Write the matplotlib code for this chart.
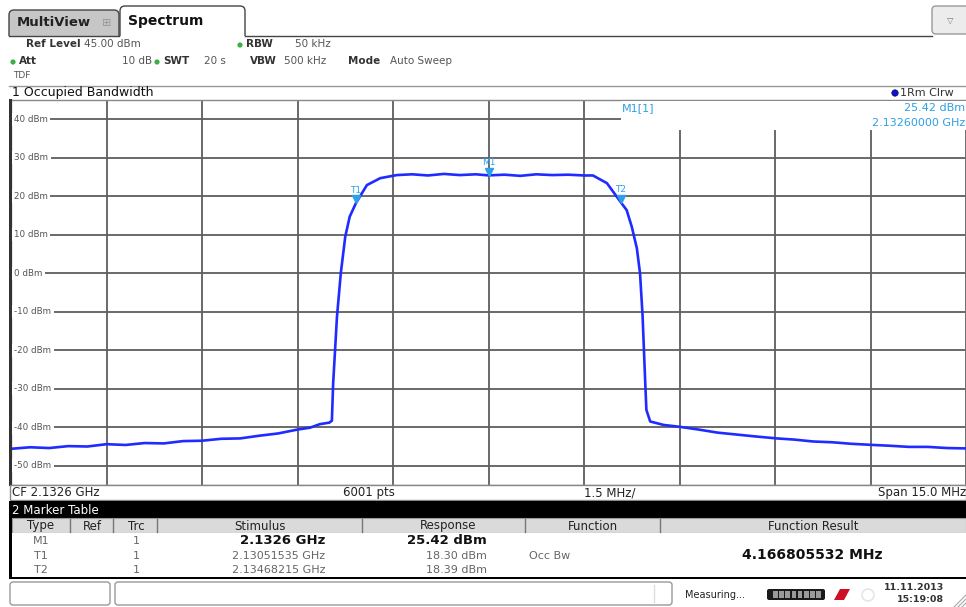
import numpy as np
import matplotlib.pyplot as plt
import matplotlib.transforms as mtransforms
from matplotlib.patches import Rectangle, FancyBboxPatch, Circle, Polygon

# --- measurement settings shown on screen
cf_mhz = 2132.6
span_mhz = 15.0
ref_level = 45.0
div_mhz = 1.5

# --- trace: offset from CF (MHz) and level (dBm)
trace_off = [-7.50, -7.20, -6.90, -6.60, -6.30, -6.00, -5.70, -5.40, -5.10, -4.80,
             -4.50, -4.20, -3.90, -3.60, -3.30, -3.00, -2.80, -2.65, -2.50, -2.46,
             -2.44, -2.38, -2.32, -2.25, -2.18, -2.08, -1.91, -1.70, -1.44, -1.20,
             -0.95, -0.70, -0.45, -0.20, 0.00, 0.25, 0.50, 0.75, 1.00, 1.25,
             1.50, 1.64, 1.86, 2.08, 2.17, 2.25, 2.33, 2.38, 2.42, 2.46,
             2.48, 2.54, 2.75, 3.01, 3.30, 3.60, 3.90, 4.20, 4.53, 4.80,
             5.10, 5.40, 5.70, 6.04, 6.30, 6.60, 6.90, 7.20, 7.50]
trace_dbm = [-45.6, -45.2, -45.4, -44.9, -45.0, -44.4, -44.6, -44.1, -44.2, -43.6,
             -43.5, -43.0, -42.9, -42.2, -41.6, -40.6, -40.1, -39.2, -38.8, -38.3,
             -28.6, -11.3, 0.0, 9.5, 14.7, 18.3, 22.9, 24.7, 25.5, 25.7,
             25.4, 25.8, 25.5, 25.7, 25.42, 25.6, 25.3, 25.7, 25.5, 25.6,
             25.4, 25.4, 23.4, 18.4, 16.4, 12.1, 6.5, 0.0, -11.0, -27.7,
             -35.5, -38.5, -39.4, -39.9, -40.6, -41.4, -41.9, -42.4, -42.9, -43.2,
             -43.7, -43.9, -44.3, -44.6, -44.8, -45.1, -45.1, -45.4, -45.5]

# --- markers
marker_names = ['M1', 'T1', 'T2']
marker_off = [0.0, -2.08465, 2.08215]
marker_dbm = [25.42, 18.30, 18.39]
marker_stim = ['2.1326 GHz', '2.13051535 GHz', '2.13468215 GHz']
marker_resp = ['25.42 dBm', '18.30 dBm', '18.39 dBm']
occ_bw = '4.166805532 MHz'

y_ticks = [40, 30, 20, 10, 0, -10, -20, -30, -40, -50]

trace_col = '#1f2bff'
mk_col = '#2ea0e6'
grid_col = '#5e5e5e'

fig = plt.figure(figsize=(9.66, 6.07), dpi=100)

# main diagram
ax = fig.add_axes([11 / 966, 122 / 607, 955 / 966, 385 / 607])
ax.set_zorder(1)
ax.set_xlim(cf_mhz - span_mhz / 2, cf_mhz + span_mhz / 2)
ax.set_ylim(ref_level - 100, ref_level)
ax.set_xticks(cf_mhz + div_mhz * np.arange(-5, 6))
ax.set_yticks(y_ticks)
ax.grid(True, color=grid_col, lw=1.3)
ax.tick_params(length=0, labelbottom=False, labelleft=False)
for s in ['top', 'bottom', 'right', 'left']:
    ax.spines[s].set_color('#888888')
    ax.spines[s].set_linewidth(1)

ax.plot(cf_mhz + np.array(trace_off), trace_dbm, color=trace_col, lw=1.9, zorder=4)

for name, off, lvl in zip(marker_names, marker_off, marker_dbm):
    ax.plot(cf_mhz + off, lvl + 0.9, marker='v', ms=6, color=mk_col, zorder=5)
    ax.annotate(name, (cf_mhz + off, lvl), xytext=(0, 9), textcoords='offset points',
                ha='center', va='center', fontsize=6.5, color=mk_col, zorder=5)

trans = mtransforms.blended_transform_factory(ax.transAxes, ax.transData)
for v in y_ticks:
    ax.text(0.0035, v, f'{v} dBm', transform=trans, fontsize=6.3, color='#555555',
            ha='left', va='center', zorder=6,
            bbox=dict(boxstyle='square,pad=0.25', fc='white', ec='none'))

# overlay in pixel coordinates for the instrument frame
bg = fig.add_axes([0, 0, 1, 1])
bg.set_zorder(3)
bg.set_xlim(0, 966)
bg.set_ylim(607, 0)
bg.axis('off')


def txt(x, y, s, **kw):
    kw.setdefault('va', 'center')
    kw.setdefault('fontsize', 7.5)
    kw.setdefault('color', '#333333')
    bg.text(x, y, s, **kw)


# tabs
bg.add_patch(FancyBboxPatch((9, 10), 110, 30, boxstyle='round,pad=0,rounding_size=5',
                            fc='#c6c6c6', ec='#444444', lw=1))
bg.add_patch(FancyBboxPatch((120, 6), 125, 36, boxstyle='round,pad=0,rounding_size=5',
                            fc='white', ec='#444444', lw=1))
bg.add_patch(Rectangle((0, 36), 966, 10, fc='white', ec='none'))
bg.plot([9, 119], [35.5, 35.5], color='#444444', lw=1)
bg.plot([245, 932], [35.5, 35.5], color='#444444', lw=1)
txt(17, 23, 'MultiView', fontsize=9.5, fontweight='bold', color='#222222')
txt(102, 23, '\u229e', fontsize=8, color='#999999')
txt(128, 21, 'Spectrum', fontsize=10, fontweight='bold', color='#111111')
bg.add_patch(FancyBboxPatch((932, 6), 40, 28, boxstyle='round,pad=0,rounding_size=4',
                            fc='#ececec', ec='#999999', lw=1))
txt(950, 20, '\u25bd', fontsize=6, color='#777777', ha='center')

# setting header
green = '#3cb043'
txt(26, 44, 'Ref Level', fontweight='bold')
txt(84, 44, '45.00 dBm', color='#555555')
bg.add_patch(Circle((240, 45), 2.6, fc=green, ec='none'))
txt(246, 44, 'RBW', fontweight='bold')
txt(295, 44, '50 kHz', color='#555555')
bg.add_patch(Circle((13, 62), 2.6, fc=green, ec='none'))
txt(19, 61, 'Att', fontweight='bold')
txt(152, 61, '10 dB', color='#555555', ha='right')
bg.add_patch(Circle((157, 62), 2.6, fc=green, ec='none'))
txt(163, 61, 'SWT', fontweight='bold')
txt(204, 61, '20 s', color='#555555')
txt(250, 61, 'VBW', fontweight='bold')
txt(284, 61, '500 kHz', color='#555555')
txt(348, 61, 'Mode', fontweight='bold')
txt(390, 61, 'Auto Sweep', color='#555555')
txt(13, 76, 'TDF', fontsize=6.5, color='#555555')

# window title
bg.plot([9, 966], [85.5, 85.5], color='#999999', lw=1)
txt(12, 92.5, '1 Occupied Bandwidth', fontsize=9, color='#111111')
bg.add_patch(Circle((895, 93), 3.2, fc='#1010cc', ec='#000066', lw=0.5))
txt(900, 93, '1Rm Clrw', fontsize=8, color='#333333')

# left frame of the diagram
bg.add_patch(Rectangle((9, 99), 3, 387, fc='#333333', ec='none'))

# marker info field over the grid
bg.add_patch(Rectangle((621, 100.5), 345, 29, fc='white', ec='none'))
txt(622, 108, 'M1[1]', fontsize=8, color=mk_col)
txt(965, 108, marker_resp[0], fontsize=8, color=mk_col, ha='right')
txt(965, 123, '2.13260000 GHz', fontsize=8, color=mk_col, ha='right')

# footer of diagram
bg.add_patch(Rectangle((10, 485), 956, 15, fc='white', ec='#888888', lw=1))
txt(12, 492.5, 'CF 2.1326 GHz', fontsize=8.5, color='#222222')
txt(369, 492.5, '6001 pts', fontsize=8.5, color='#222222', ha='center')
txt(610, 492.5, '%.1f MHz/' % div_mhz, fontsize=8.5, color='#222222', ha='center')
txt(966, 492.5, 'Span %.1f MHz' % span_mhz, fontsize=8.5, color='#222222', ha='right')

# marker table
bg.add_patch(Rectangle((9, 501), 957, 17, fc='black', ec='none'))
txt(12, 510, '2 Marker Table', fontsize=8.5, color='white')
bg.add_patch(Rectangle((12, 518), 954, 15, fc='#dadada', ec='#999999', lw=0.8))
bg.add_patch(Rectangle((12, 533), 954, 44, fc='white', ec='none'))
bg.add_patch(Rectangle((9, 501), 3, 78, fc='black', ec='none'))
bg.add_patch(Rectangle((9, 576.5), 957, 2.5, fc='black', ec='none'))
for xs in [70, 113, 157, 362, 525, 660]:
    bg.plot([xs, xs], [519, 532], color='#777777', lw=1)
heads = [('Type', 41), ('Ref', 92), ('Trc', 136), ('Stimulus', 260),
         ('Response', 448), ('Function', 593), ('Function Result', 813)]
for h, xh in heads:
    txt(xh, 526, h, fontsize=8.5, color='#222222', ha='center')
row_y = [541, 556, 570]
for i, name in enumerate(marker_names):
    bold = 'bold' if i == 0 else 'normal'
    col = '#111111' if i == 0 else '#666666'
    fs = 9.5 if i == 0 else 8
    txt(41, row_y[i], name, fontsize=8, color='#666666', ha='center')
    txt(136, row_y[i], '1', fontsize=8, color='#666666', ha='center')
    txt(325, row_y[i], marker_stim[i], fontsize=fs, fontweight=bold, color=col, ha='right')
    txt(487, row_y[i], marker_resp[i], fontsize=fs, fontweight=bold, color=col, ha='right')
txt(529, 556, 'Occ Bw', fontsize=8, color='#666666')
txt(812, 555, occ_bw, fontsize=10, fontweight='bold', color='#111111', ha='center')

# status bar
bg.add_patch(FancyBboxPatch((10, 582), 100, 23, boxstyle='round,pad=0,rounding_size=3',
                            fc='white', ec='#999999', lw=1))
bg.add_patch(FancyBboxPatch((115, 582), 557, 23, boxstyle='round,pad=0,rounding_size=3',
                            fc='white', ec='#999999', lw=1))
bg.plot([654, 654], [585, 602], color='#dddddd', lw=1)
txt(685, 595, 'Measuring...', fontsize=7, color='#222222')
bg.add_patch(FancyBboxPatch((767, 589), 58, 11, boxstyle='round,pad=0,rounding_size=2',
                            fc='#1a1a1a', ec='none'))
for k in range(8):
    bg.add_patch(Rectangle((773 + k * 6.2, 591), 4.5, 7, fc='#9a9a9a', ec='none'))
bg.add_patch(Polygon([[834, 600], [840, 589], [850, 589], [844, 600]],
                     closed=True, fc='#cc1122', ec='none'))
bg.add_patch(Circle((868, 595), 6, fc='none', ec='#e6e6e6', lw=1.2))
txt(944, 588, '11.11.2013', fontsize=6.8, fontweight='bold', color='#333333', ha='right')
txt(944, 600, '15:19:08', fontsize=6.8, fontweight='bold', color='#333333', ha='right')
for d in [4, 8, 12]:
    bg.plot([966 - d, 966], [607, 607 - d], color='#aaaaaa', lw=0.8)

fig.savefig('out.png', dpi=100)
